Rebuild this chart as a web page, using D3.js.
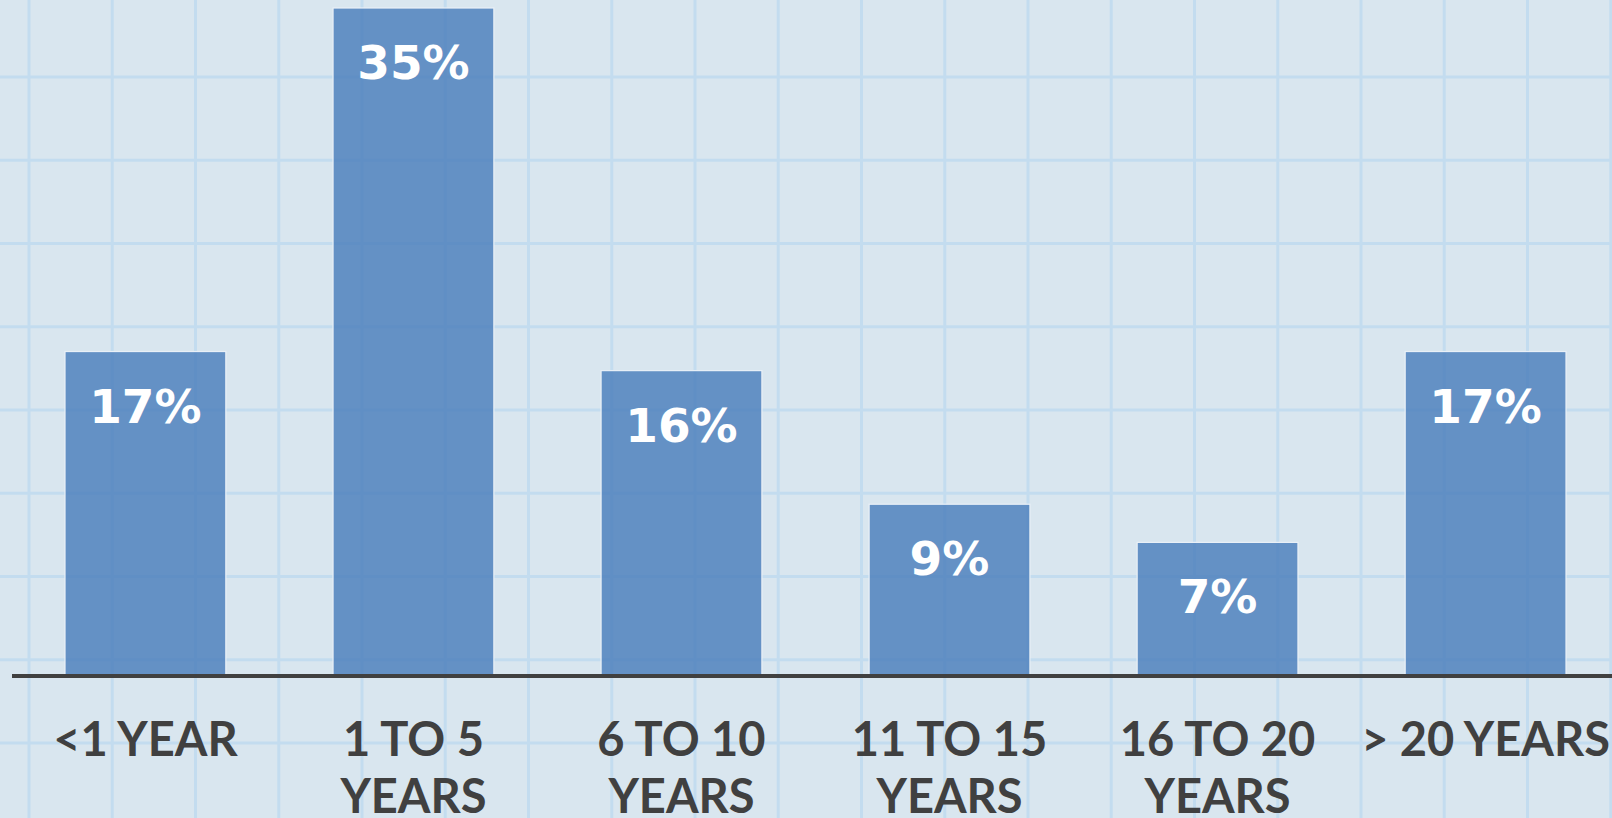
<!DOCTYPE html>
<html>
<head>
    <meta charset="UTF-8"/>
    <style>
        body {
            margin: 0;
            background-color: #d9e6ef;
            overflow: hidden;
        }
    </style>
</head>
<body>
<script src="https://d3js.org/d3.v7.min.js"></script>
<div id="my_dataviz"></div>

<script>
    // data
    var categories = ["<1 YEAR", "1 TO 5 YEARS", "6 TO 10 YEARS", "11 TO 15 YEARS", "16 TO 20 YEARS", "> 20 YEARS"];
    var values = [17, 35, 16, 9, 7, 17];

    var width = 1612,
        height = 818;

    var svg = d3.select("#my_dataviz")
        .append("svg")
        .attr("width", width)
        .attr("height", height);

    // background with graph paper grid
    svg.append("rect")
        .attr("width", width)
        .attr("height", height)
        .attr("fill", "#d9e6ef");

    var gridStep = 83.25;
    svg.selectAll(".vgrid")
        .data(d3.range(29, width, gridStep))
        .enter()
        .append("line")
        .attr("x1", function(d){ return d })
        .attr("x2", function(d){ return d })
        .attr("y1", 0)
        .attr("y2", height)
        .attr("stroke", "#c3dcef")
        .attr("stroke-width", 3);

    svg.selectAll(".hgrid")
        .data(d3.range(77 - gridStep, height, gridStep))
        .enter()
        .append("line")
        .attr("x1", 0)
        .attr("x2", width)
        .attr("y1", function(d){ return d })
        .attr("y2", function(d){ return d })
        .attr("stroke", "#c3dcef")
        .attr("stroke-width", 3);

    // scales
    var x = d3.scaleBand()
        .domain(categories)
        .range([11.4, 1619.6])
        .paddingInner(0.4)
        .paddingOuter(0.2);

    var y = d3.scaleLinear()
        .domain([0, 35])
        .range([676, 8]);

    // bars
    svg.selectAll(".bar")
        .data(values)
        .enter()
        .append("rect")
        .attr("x", function(d, i){ return x(categories[i]) })
        .attr("y", function(d){ return y(d) })
        .attr("width", x.bandwidth())
        .attr("height", function(d){ return y(0) - y(d) })
        .attr("fill", "#4f81bd")
        .attr("fill-opacity", 0.85)
        .attr("stroke", "#e9f0f7")
        .attr("stroke-width", 1.2);

    // value labels inside the top of each bar
    svg.selectAll(".val")
        .data(values)
        .enter()
        .append("text")
        .attr("x", function(d, i){ return x(categories[i]) + x.bandwidth() / 2 })
        .attr("y", function(d){ return Math.max(y(d) + 71, 72) })
        .attr("text-anchor", "middle")
        .attr("font-family", "'DejaVu Sans', sans-serif")
        .attr("font-weight", "bold")
        .attr("font-size", "47px")
        .attr("fill", "white")
        .text(function(d){ return d + "%" });

    // x axis line
    svg.append("line")
        .attr("x1", 12)
        .attr("x2", width)
        .attr("y1", y(0))
        .attr("y2", y(0))
        .attr("stroke", "#404040")
        .attr("stroke-width", 4);

    // category labels, "N TO M YEARS" wraps onto two lines
    var labels = svg.selectAll(".cat")
        .data(categories)
        .enter()
        .append("text")
        .attr("text-anchor", "middle")
        .attr("font-family", "Lato, 'Open Sans', sans-serif")
        .attr("font-weight", "bold")
        .attr("font-size", "47px")
        .attr("fill", "#404040");

    labels.each(function(d) {
        var lines = / TO /.test(d) ? d.replace(" YEARS", "|YEARS").split("|") : [d];
        var cx = x(d) + x.bandwidth() / 2;
        d3.select(this).selectAll("tspan")
            .data(lines)
            .enter()
            .append("tspan")
            .attr("x", cx)
            .attr("y", function(l, j){ return 756 + j * 57 })
            .text(function(l){ return l });
    });
</script>
</body>
</html>
